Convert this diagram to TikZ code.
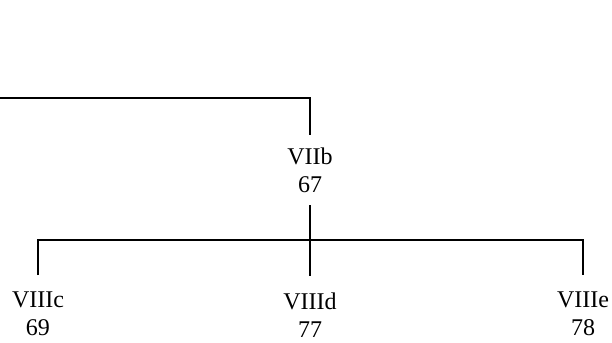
\documentclass[tikz,border=0pt]{standalone}
\usepackage{fontspec}
\setmainfont{Liberation Serif}
\usetikzlibrary{positioning}

\begin{document}
\begin{tikzpicture}[x=1bp,y=-1bp,line width=1.2bp,
	every node/.style={align=center,inner xsep=0pt,inner ysep=2bp,anchor=north,
		font=\fontsize{24bp}{28bp}\selectfont},
	tolabel/.style={shorten >=14bp}]

\useasboundingbox (0,0) rectangle (612,342);

% upper level
\coordinate (left) at (0,98);
\node[inner ysep=12bp] (vIIb) at (310,135) {VIIb\\67};
\draw (left) -- (left -| vIIb.north) -- (vIIb.north);

% lower level
\coordinate (bar) at (310,240);
\node (vIIIc) at (38,289) {VIIIc\\69};
\node (vIIId) at (310,290) {VIIId\\77};
\node (vIIIe) at (583,289) {VIIIe\\78};
\draw[tolabel] (vIIb.south) -- (vIIId.north);
\draw[tolabel,shorten <=14bp] (vIIIc.north) -- (vIIIc.north |- bar) -- (vIIIe.north |- bar) -- (vIIIe.north);

\end{tikzpicture}
\end{document}
